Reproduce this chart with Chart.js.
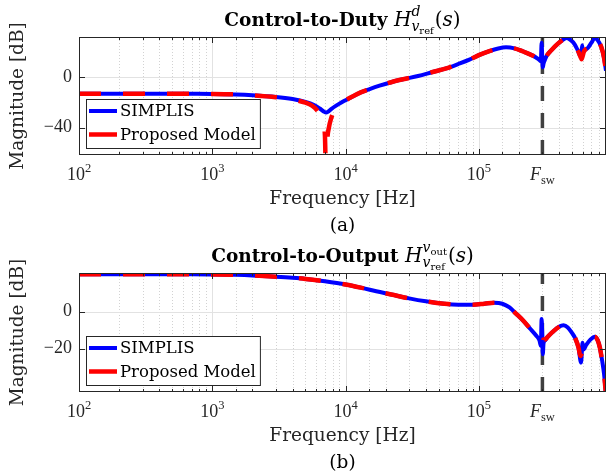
<!DOCTYPE html>
<html>
<head>
<meta charset="utf-8">
<script src="https://cdn.jsdelivr.net/npm/chart.js@4.4.1/dist/chart.umd.min.js"></script>
<style>
  body { margin: 0; background: #fff; width: 610px; height: 476px; overflow: hidden; }
  .box { position: relative; width: 610px; height: 238px; }
  canvas { display: block; }
</style>
</head>
<body>
<div class="box"><canvas id="dutyChart" width="610" height="238"></canvas></div>
<div class="box"><canvas id="outChart" width="610" height="238"></canvas></div>
<script>
// ---- data ----
const FSW = 3e5;
const xRange = [1e2, 9e5];
const xTickValues = [1e2, 1e3, 1e4, 1e5, FSW];
const xTickLabels = ['10^2', '10^3', '10^4', '10^5', 'F_sw'];

// control-to-duty
const dutyFreq = [100, 200, 400, 700, 1000, 1500, 2000, 3000, 4000, 5000, 5800, 6400, 6900, 7150, 7400, 7800, 8500, 9300,
  10000, 11500, 13000, 15000, 18000, 22000, 27000, 35000, 45000, 57000, 70000, 85000, 100000, 120000, 140000, 160000,
  185000, 215000, 250000, 280000, 292000, 296000, 299000, 302000, 306000, 315000, 323000, 350000, 390000, 430000,
  457000, 490000, 525000, 555000, 578000, 588000, 597000, 603000, 615000, 660000, 700000, 740000, 780000, 830000,
  870000, 900000];
const dutySimplis = [-13.0, -13.0, -13.0, -13.1, -13.2, -13.6, -14.2, -15.6, -17.3, -19.5, -22.0, -24.8, -27.3, -28.0, -27.2, -25.2, -22.5, -20.0,
  -18.2, -14.8, -12.0, -9.5, -6.6, -3.9, -1.6, 1.0, 4.2, 7.1, 10.5, 14.0, 17.6, 20.8, 22.9, 23.8,
  23.0, 20.5, 17.6, 14.5, 12.8, 27.5, 16.0, 8.0, 11.0, 14.5, 17.1, 21.5, 26.5, 30.0,
  31.2, 29.5, 26.0, 21.0, 17.0, 19.0, 25.5, 19.5, 21.0, 23.5, 27.5, 31.0, 29.5, 24.0,
  15.5, 5.2];
const dutyModelFreq = [100, 200, 400, 700, 1000, 1500, 2000, 3000, 4000, 5000, 5600, 6100, 6500, 6800, 7000, 7150, 7300, 7500,
  7800, 8200, 8800, 9500, 10000, 11500, 13000, 15000, 18000, 22000, 27000, 35000, 45000, 57000, 70000, 85000,
  100000, 120000, 140000, 160000, 185000, 215000, 250000, 280000, 292000, 298000, 301000, 305000, 315000, 323000,
  350000, 390000, 430000, 457000, 490000, 525000, 555000, 578000, 590000, 600000, 615000, 660000, 700000, 740000,
  780000, 830000, 870000, 900000];
const dutyModel = [-13.0, -13.0, -13.0, -13.1, -13.2, -13.6, -14.3, -15.8, -17.6, -20.2, -22.5, -26.0, -31.0, -37.0, -46.0, -80.0, -50.0, -40.0,
  -32.5, -27.0, -23.0, -20.0, -18.3, -14.8, -12.0, -9.5, -6.6, -3.9, -1.6, 1.0, 4.2, 7.1, 10.5, 14.0,
  17.6, 20.8, 22.9, 23.8, 23.0, 20.5, 17.6, 14.5, 12.5, 10.5, 10.0, 12.0, 14.5, 17.1,
  21.5, 26.5, 30.0, 31.2, 29.5, 26.0, 21.0, 16.5, 14.3, 16.5, 20.5, 23.5, 27.5, 31.0,
  29.5, 24.0, 15.5, 5.2];
const dutyYTicks = [-40, 0];
const dutyYRange = [-61.7, 32];

// control-to-output
const outFreq = [100, 300, 700, 1000, 1500, 2000, 3000, 4000, 5000, 7000, 10000, 13000, 17000, 22000, 30000, 40000,
  55000, 70000, 90000, 110000, 130000, 150000, 170000, 190000, 215000, 245000, 270000, 285000, 292000, 296000,
  299000, 302000, 306000, 315000, 325000, 360000, 400000, 432000, 465000, 500000, 530000, 560000, 585000, 600000,
  610000, 640000, 690000, 740000, 780000, 810000, 840000, 870000, 900000];
const outSimplis = [20.2, 20.2, 20.2, 20.1, 19.9, 19.6, 18.9, 18.3, 17.7, 16.4, 14.7, 13.0, 11.0, 9.3, 7.2, 5.6,
  4.3, 3.8, 3.8, 4.3, 4.8, 4.3, 2.3, -1.0, -4.8, -9.5, -13.0, -15.5, -18.5, -4.0,
  -12.0, -23.0, -17.0, -15.5, -14.0, -10.8, -8.2, -7.4, -8.5, -11.5, -14.5, -19.5, -27.5, -16.8,
  -20.5, -18.0, -15.0, -13.5, -15.5, -19.5, -26.0, -33.5, -45.0];
const outModelFreq = [100, 300, 700, 1000, 1500, 2000, 3000, 4000, 5000, 7000, 10000, 13000, 17000, 22000, 30000, 40000,
  55000, 70000, 90000, 110000, 130000, 150000, 170000, 190000, 215000, 245000, 270000, 285000, 293000, 300000,
  305000, 315000, 325000, 360000, 400000, 432000, 465000, 500000, 530000, 560000, 578000, 592000, 610000, 640000,
  690000, 740000, 780000, 810000, 840000, 870000, 900000];
const outModel = [20.2, 20.2, 20.2, 20.1, 19.9, 19.6, 18.9, 18.3, 17.7, 16.4, 14.7, 13.0, 11.0, 9.3, 7.2, 5.6,
  4.3, 3.8, 3.8, 4.3, 4.8, 4.3, 2.3, -1.0, -4.8, -9.5, -13.0, -15.0, -16.0, -16.5,
  -15.0, -15.0, -14.0, -10.8, -8.2, -7.4, -8.5, -11.5, -14.5, -19.5, -24.0, -22.5, -19.5, -17.5,
  -15.0, -13.5, -15.5, -19.5, -26.0, -33.5, -45.0];
const outYTicks = [-20, 0];
const outYRange = [-43.4, 20.9];

// ---- style ----
const SERIF = "'DejaVu Serif'";
const NUM = "'Liberation Serif'";
const INK = '#262626';
const rm = s => `${s}px ${SERIF}`;
const it = s => `italic ${s}px ${SERIF}`;
const bf = s => `bold ${s}px ${SERIF}`;

const dutyTitle = [
  {t: 'Control-to-Duty ', f: bf(18.5)},
  {t: 'H', f: it(20)},
  {sup: [{t: 'd', f: it(14), dy: -10}], sub: [{t: 'v', f: it(14), dy: 5}, {t: 'ref', f: rm(10), dy: 8}]},
  {t: '(', f: rm(20)}, {t: 's', f: it(20)}, {t: ')', f: rm(20)}
];
const outTitle = [
  {t: 'Control-to-Output ', f: bf(18.5)},
  {t: 'H', f: it(20)},
  {sup: [{t: 'v', f: it(14), dy: -10}, {t: 'out', f: rm(10), dy: -7}],
   sub: [{t: 'v', f: it(14), dy: 5}, {t: 'ref', f: rm(10), dy: 8}]},
  {t: '(', f: rm(20)}, {t: 's', f: it(20)}, {t: ')', f: rm(20)}
];

// draws (or measures) a run of text pieces, returns end x
function runParts(ctx, parts, x, y, draw) {
  for (const p of parts) {
    if (p.sup || p.sub) {
      const a = p.sup ? runParts(ctx, p.sup, x, y, draw) : x;
      const b = p.sub ? runParts(ctx, p.sub, x, y, draw) : x;
      x = Math.max(a, b) + 1;
    } else {
      ctx.font = p.f;
      if (draw) ctx.fillText(p.t, x, y + (p.dy || 0));
      x += ctx.measureText(p.t).width;
    }
  }
  return x;
}

function tickParts(label) {
  if (label.includes('^')) {
    const [b, e] = label.split('^');
    return [{t: b, f: `18px ${NUM}`}, {t: e, f: `12.5px ${NUM}`, dy: -8}];
  }
  const [b, s] = label.split('_');
  return [{t: b, f: `italic 18px ${NUM}`}, {t: s, f: `12.5px ${NUM}`, dy: 4}];
}

const isDecade = v => { const l = Math.log10(v); return Math.abs(l - Math.round(l)) < 1e-9; };

const axesPlugin = {
  id: 'axesPlugin',
  beforeDatasetsDraw(chart) {
    const {ctx, chartArea: {left, right, top, bottom}, scales: {x, y}} = chart;
    ctx.save();
    ctx.lineWidth = 1;
    // vertical grid
    x.ticks.forEach(t => {
      const px = Math.round(x.getPixelForValue(t.value)) + 0.5;
      if (px < left + 1 || px > right - 1) return;
      if (isDecade(t.value)) { ctx.setLineDash([]); ctx.strokeStyle = '#e2e2e2'; }
      else { ctx.setLineDash([1, 2]); ctx.strokeStyle = '#d2d2d2'; }
      ctx.beginPath(); ctx.moveTo(px, top); ctx.lineTo(px, bottom); ctx.stroke();
    });
    // horizontal grid
    ctx.setLineDash([]);
    ctx.strokeStyle = '#e2e2e2';
    y.ticks.forEach(t => {
      const py = Math.round(y.getPixelForValue(t.value)) + 0.5;
      ctx.beginPath(); ctx.moveTo(left, py); ctx.lineTo(right, py); ctx.stroke();
    });
    ctx.restore();
  },
  afterDatasetsDraw(chart, args, opts) {
    const {ctx, chartArea: {left, right, top, bottom}, scales: {x, y}} = chart;
    ctx.save();
    ctx.strokeStyle = INK;
    ctx.lineWidth = 1;
    // inward tick marks
    x.ticks.forEach(t => {
      const px = Math.round(x.getPixelForValue(t.value)) + 0.5;
      if (px < left + 1 || px > right - 1) return;
      const len = isDecade(t.value) ? 6 : 3;
      ctx.beginPath();
      ctx.moveTo(px, bottom); ctx.lineTo(px, bottom - len);
      ctx.moveTo(px, top); ctx.lineTo(px, top + len);
      ctx.stroke();
    });
    y.ticks.forEach(t => {
      const py = Math.round(y.getPixelForValue(t.value)) + 0.5;
      ctx.beginPath();
      ctx.moveTo(left, py); ctx.lineTo(left + 6, py);
      ctx.moveTo(right, py); ctx.lineTo(right - 6, py);
      ctx.stroke();
    });
    ctx.strokeRect(left + 0.5, top + 0.5, right - left - 1, bottom - top - 1);

    // x tick labels
    ctx.fillStyle = INK;
    ctx.textBaseline = 'alphabetic';
    ctx.textAlign = 'left';
    xTickValues.forEach((v, i) => {
      const parts = tickParts(xTickLabels[i]);
      const w = runParts(ctx, parts, 0, 0, false);
      runParts(ctx, parts, x.getPixelForValue(v) - w / 2, bottom + 25, true);
    });

    // axis titles and caption
    const cx = (left + right) / 2;
    ctx.textAlign = 'center';
    ctx.textBaseline = 'middle';
    ctx.font = rm(18.5);
    ctx.fillText('Frequency [Hz]', cx, bottom + 44);
    ctx.fillStyle = '#000';
    ctx.fillText(opts.caption, cx, bottom + 71);
    ctx.fillStyle = INK;
    ctx.save();
    ctx.translate(18, (top + bottom) / 2);
    ctx.rotate(-Math.PI / 2);
    ctx.fillText('Magnitude [dB]', 0, 0);
    ctx.restore();

    // title
    ctx.textAlign = 'left';
    ctx.textBaseline = 'alphabetic';
    ctx.fillStyle = '#000';
    const tw = runParts(ctx, opts.title, 0, 0, false);
    runParts(ctx, opts.title, cx - tw / 2, top - 11, true);

    // legend (inside, lower left)
    const items = chart.data.datasets.filter(d => d.inLegend);
    ctx.font = rm(16.5);
    const textW = Math.max(...items.map(d => ctx.measureText(d.label).width));
    const bx = left + 7, bh = 49, by = bottom - 7 - bh, bw = 34 + textW + 4;
    ctx.fillStyle = '#fff';
    ctx.fillRect(bx, by, bw, bh);
    ctx.strokeStyle = INK;
    ctx.strokeRect(bx + 0.5, by + 0.5, bw, bh);
    ctx.textBaseline = 'middle';
    items.forEach((d, i) => {
      const ry = by + 12 + i * 23.5;
      ctx.strokeStyle = d.borderColor;
      ctx.lineWidth = d.borderWidth;
      ctx.beginPath(); ctx.moveTo(bx + 3, ry); ctx.lineTo(bx + 31, ry); ctx.stroke();
      ctx.fillStyle = '#000';
      ctx.fillText(d.label, bx + 34, ry + 1);
    });
    ctx.restore();
  }
};

const toXY = (xs, ys) => xs.map((v, i) => ({x: v, y: ys[i]}));

function makeChart(id, freq, simplis, modelFreq, model, yTicks, yRange, title, caption, padTop, xAxisH) {
  return new Chart(document.getElementById(id), {
    type: 'line',
    data: {
      datasets: [
        {label: 'SIMPLIS', inLegend: true, data: toXY(freq, simplis), borderColor: '#0000ff', borderWidth: 4,
         cubicInterpolationMode: 'monotone', order: 2},
        {label: 'Proposed Model', inLegend: true, data: toXY(modelFreq, model), borderColor: '#ff0000', borderWidth: 4.5,
         borderDash: [22, 22], cubicInterpolationMode: 'monotone', order: 1},
        {label: 'Fsw', data: [{x: FSW, y: yRange[0]}, {x: FSW, y: yRange[1]}], borderColor: '#404040', borderWidth: 3.5,
         borderDash: [15, 12], order: 3}
      ]
    },
    options: {
      responsive: false,
      animation: false,
      events: [],
      layout: {padding: {top: padTop, right: 4, left: 0, bottom: 0}},
      elements: {point: {radius: 0}},
      scales: {
        x: {
          type: 'logarithmic', min: xRange[0], max: xRange[1],
          grid: {display: false, drawTicks: false}, border: {display: false},
          ticks: {display: false},
          afterFit: s => { s.height = xAxisH; }
        },
        y: {
          min: yRange[0], max: yRange[1],
          afterBuildTicks: s => { s.ticks = yTicks.map(v => ({value: v})); },
          afterFit: s => { s.width = 79; },
          grid: {display: false, drawTicks: false}, border: {display: false},
          ticks: {color: INK, padding: 7, font: {family: 'Liberation Serif', size: 18},
                  callback: v => (v < 0 ? '\u2212' + Math.abs(v) : String(v))}
        }
      },
      plugins: {
        legend: {display: false},
        tooltip: {enabled: false},
        axesPlugin: {title, caption}
      }
    },
    plugins: [axesPlugin]
  });
}

makeChart('dutyChart', dutyFreq, dutySimplis, dutyModelFreq, dutyModel, dutyYTicks, dutyYRange, dutyTitle, '(a)', 37, 83);
makeChart('outChart', outFreq, outSimplis, outModelFreq, outModel, outYTicks, outYRange, outTitle, '(b)', 35, 84);
</script>
</body>
</html>
